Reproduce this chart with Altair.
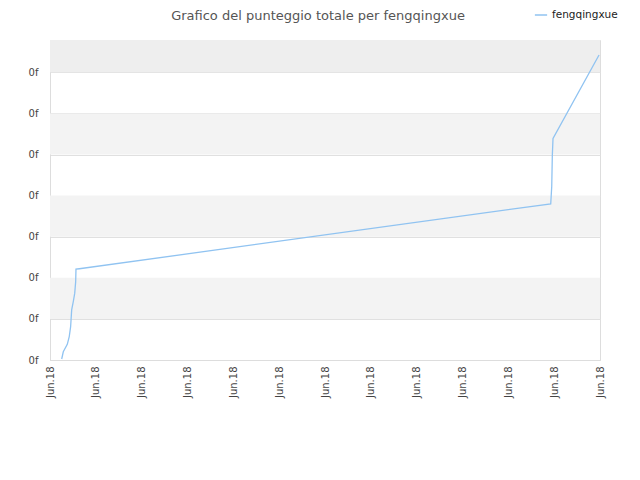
import altair as alt
import pandas as pd

# line data (x in tick units, y in grid units)
xs = [0.255, 0.29, 0.377, 0.42, 0.45, 0.473, 0.508, 0.539, 0.56, 0.567, 0.64,
      10.925, 10.947, 10.96, 10.975, 11.979]
ys = [0.024, 0.20, 0.38, 0.57, 0.81, 1.22, 1.42, 1.62, 1.90, 2.21, 2.22,
      3.80, 4.22, 4.99, 5.39, 7.42]
series_name = "fengqingxue"
title_text = "Grafico del punteggio totale per fengqingxue"
x_ticks = list(range(0, 13))
y_ticks = list(range(0, 8))
y_top = 7.786
x_label = "Jun.18"
y_label = "0f"

line_df = pd.DataFrame({"x": xs, "y": ys, "s": [series_name] * len(xs)})

# background bands
band_lo = [1, 3, 5, 7]
band_hi = [2, 4, 6, y_top]
band_col = ["#f3f3f3", "#f3f3f3", "#f3f3f3", "#eeeeee"]
bands_df = pd.DataFrame({"y": band_lo, "y2": band_hi, "c": band_col})

xscale = alt.Scale(domain=[0, 12], nice=False, zero=False)
yscale = alt.Scale(domain=[0, y_top], nice=False, zero=False)

bands = alt.Chart(bands_df).mark_rect().encode(
    x=alt.value(0), x2=alt.value(550),
    y=alt.Y("y:Q", scale=yscale),
    y2="y2:Q",
    fill=alt.Fill("c:N", scale=None, legend=None),
)

title = alt.Chart(pd.DataFrame({"t": [title_text]})).mark_text(
    fontSize=13, color="#555", font="DejaVu Sans", align="center", baseline="top"
).encode(x=alt.value(268), y=alt.value(-30), text="t:N")

line = alt.Chart(line_df).mark_line(strokeWidth=1.3).encode(
    x=alt.X("x:Q", scale=xscale, title=None,
            axis=alt.Axis(values=x_ticks, labelExpr=f"'{x_label}'", labelAngle=-90,
                          grid=False, ticks=False, labelPadding=6, labelFontSize=10,
                          labelColor="#444", domainColor="#dddddd",
                          labelFont="DejaVu Sans", labelFlush=False)),
    y=alt.Y("y:Q", scale=yscale, title=None,
            axis=alt.Axis(values=y_ticks, labelExpr=f"'{y_label}'", grid=True,
                          gridColor="#e0e0e0", ticks=False, labelPadding=12,
                          labelFontSize=10, labelColor="#444", domainColor="#dddddd",
                          labelFont="DejaVu Sans", labelFlush=False)),
    color=alt.Color("s:N", scale=alt.Scale(domain=[series_name], range=["#90c3f1"]),
                    legend=alt.Legend(title=None, orient="none", legendX=484, legendY=-32,
                                      symbolType="stroke", symbolSize=150,
                                      symbolStrokeWidth=1.5, labelFontSize=10.5,
                                      labelFont="DejaVu Sans", labelColor="#222")),
)

chart = alt.layer(bands, line, title).properties(
    width=550, height=320,
    autosize=alt.AutoSizeParams(type="none"),
    padding={"left": 42, "top": 32, "right": 32, "bottom": 80},
).configure_view(stroke="#dddddd")

chart.save("out.html", embed_options={"renderer": "svg", "actions": False})
